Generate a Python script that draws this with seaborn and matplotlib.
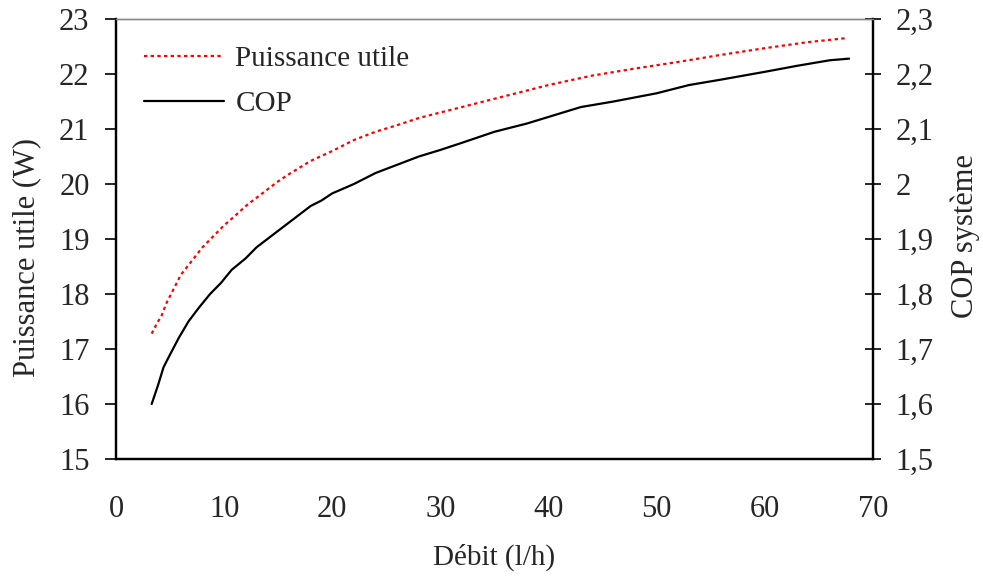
import pandas as pd
import seaborn as sns
import matplotlib.pyplot as plt

# Puissance utile (W) vs débit
debit_p = [3.3, 3.8, 4.2, 4.7, 5.2, 6.0, 7.0, 8.0, 9.0, 10.0, 11.0, 12.0, 13.0,
           14.0, 15.0, 16.0, 18.0, 20.0, 22.0, 24.0, 26.0, 28.0, 30.0, 33.0,
           36.0, 40.0, 44.0, 48.0, 52.0, 56.0, 60.0, 64.0, 67.4]
puissance = [17.28, 17.47, 17.6, 17.85, 18.04, 18.35, 18.6, 18.85, 19.05, 19.25,
             19.42, 19.6, 19.75, 19.9, 20.05, 20.18, 20.42, 20.6, 20.8, 20.95,
             21.07, 21.2, 21.3, 21.45, 21.6, 21.8, 21.97, 22.1, 22.22, 22.35,
             22.47, 22.58, 22.65]

# COP système vs débit
debit_c = [3.3, 3.9, 4.4, 5.0, 5.8, 6.7, 7.7, 8.7, 9.7, 10.7, 12.0, 13.0, 14.0,
           15.0, 16.0, 17.0, 18.0, 19.0, 20.0, 22.0, 24.0, 26.0, 28.0, 30.0,
           32.0, 35.0, 38.0, 40.0, 43.0, 46.0, 50.0, 53.0, 56.0, 60.0, 63.0,
           66.0, 67.8]
cop = [1.60, 1.635, 1.667, 1.69, 1.72, 1.75, 1.776, 1.80, 1.82, 1.844, 1.865,
       1.885, 1.90, 1.915, 1.93, 1.945, 1.96, 1.97, 1.983, 2.00, 2.02, 2.035,
       2.05, 2.062, 2.075, 2.095, 2.11, 2.122, 2.14, 2.15, 2.165, 2.18, 2.19,
       2.204, 2.215, 2.225, 2.228]

left_ticks = [15, 16, 17, 18, 19, 20, 21, 22, 23]
right_ticks = [1.5, 1.6, 1.7, 1.8, 1.9, 2.0, 2.1, 2.2, 2.3]
right_labels = ['1,5', '1,6', '1,7', '1,8', '1,9', '2', '2,1', '2,2', '2,3']
x_ticks = [0, 10, 20, 30, 40, 50, 60, 70]

df_p = pd.DataFrame({'Débit': debit_p, 'Puissance': puissance})
df_c = pd.DataFrame({'Débit': debit_c, 'COP': cop})

sns.set_style('white')
plt.rcParams['font.family'] = ['Liberation Serif', 'DejaVu Serif']

fig = plt.figure(figsize=(9.83, 5.82), dpi=100)
ax = fig.add_axes([0.118, 0.2113, 0.770, 0.756])
ax2 = ax.twinx()

sns.lineplot(data=df_p, x='Débit', y='Puissance', ax=ax, color='red',
             linewidth=1.6, linestyle=(0, (1.5, 1.5)), label='Puissance utile',
             legend=False)
sns.lineplot(data=df_c, x='Débit', y='COP', ax=ax2, color='black',
             linewidth=1.6, label='COP', legend=False)

ax.set_xlim(0, 70)
ax.set_ylim(15, 23)
ax2.set_ylim(1.5, 2.3)
ax.set_xticks(x_ticks)
ax.set_yticks(left_ticks)
ax2.set_yticks(right_ticks)
ax2.set_yticklabels(right_labels)

tfs = 22
lfs = 21
ax.tick_params(axis='both', labelsize=tfs, direction='out', length=8, width=1.2,
               color='black', pad=11)
ax.tick_params(axis='x', pad=18)
ax2.tick_params(axis='y', labelsize=tfs, direction='inout', length=12, width=1.2,
                color='black', pad=10)

ax.set_xlabel('Débit (l/h)', fontsize=lfs, labelpad=14)
ax.set_ylabel('Puissance utile (W)', fontsize=22)
ax.yaxis.set_label_coords(-0.099, 0.457)
ax2.set_ylabel('COP système', fontsize=22)
ax2.yaxis.set_label_coords(1.102, 0.507)

for a in (ax, ax2):
    for s in ('left', 'right', 'bottom'):
        a.spines[s].set_color('black')
        a.spines[s].set_linewidth(1.6)
    a.spines['top'].set_color('#888888')
    a.spines['top'].set_linewidth(1.0)

h1, l1 = ax.get_legend_handles_labels()
h2, l2 = ax2.get_legend_handles_labels()
ax.legend(h1 + h2, l1 + l2, loc='upper left', frameon=False, fontsize=lfs,
          handlelength=2.75, handletextpad=0.38, labelspacing=0.65,
          borderpad=0, borderaxespad=0, bbox_to_anchor=(0.037, 0.94))

fig.savefig('out.png', dpi=100)
